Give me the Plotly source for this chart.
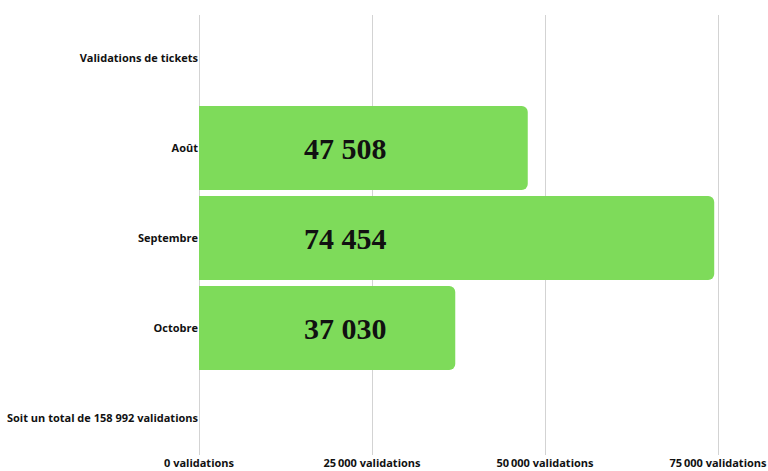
import plotly.graph_objects as go

categories = ["Validations de tickets", "Août", "Septembre", "Octobre",
              "Soit un total de 158 992 validations"]
values = [None, 47508, 74454, 37030, None]
value_labels = ["", "47 508", "74 454", "37 030", ""]
tick_vals = [0, 25000, 50000, 75000]
tick_text = ["0 validations", "25\u2009000 validations", "50\u2009000 validations",
             "75\u2009000 validations"]

label_x = 21100  # where the big numbers sit along the axis

fig = go.Figure()
fig.add_trace(go.Bar(
    y=categories,
    x=values,
    orientation="h",
    marker=dict(color="#7EDB5A", cornerradius=6, line=dict(width=0)),
    hoverinfo="skip",
))

for cat, lab in zip(categories, value_labels):
    if lab:
        fig.add_annotation(
            x=label_x, y=cat, text=lab, showarrow=False,
            xanchor="center", yanchor="middle",
            font=dict(family="Liberation Serif", size=30, color="#111111", weight="bold"),
        )

fig.update_layout(
    width=768, height=471,
    margin=dict(l=199, r=19, t=15, b=16, autoexpand=False),
    paper_bgcolor="white",
    plot_bgcolor="white",
    showlegend=False,
    bargap=0.067,
    font=dict(family="Open Sans", color="#111111"),
)
fig.update_xaxes(
    range=[0, 79480],
    automargin=False,
    tickvals=tick_vals,
    ticktext=tick_text,
    showgrid=True,
    gridcolor="#D3D3D3",
    gridwidth=1,
    zeroline=True,
    zerolinecolor="#D3D3D3",
    zerolinewidth=1,
    showline=False,
    tickfont=dict(family="Open Sans", size=11, color="#111111", weight="bold"),
)
fig.update_yaxes(
    automargin=False,
    categoryorder="array",
    categoryarray=categories,
    range=[4.411, -0.478],
    showgrid=False,
    showline=False,
    ticks="",
    ticklabelstandoff=0,
    tickfont=dict(family="Open Sans", size=11, color="#111111", weight="bold"),
)

# drop the default page margin so the figure fills the window
fig.write_html("out.html",
               config={"displayModeBar": False},
               post_script="document.body.style.margin='0';document.body.style.overflow='hidden';")
